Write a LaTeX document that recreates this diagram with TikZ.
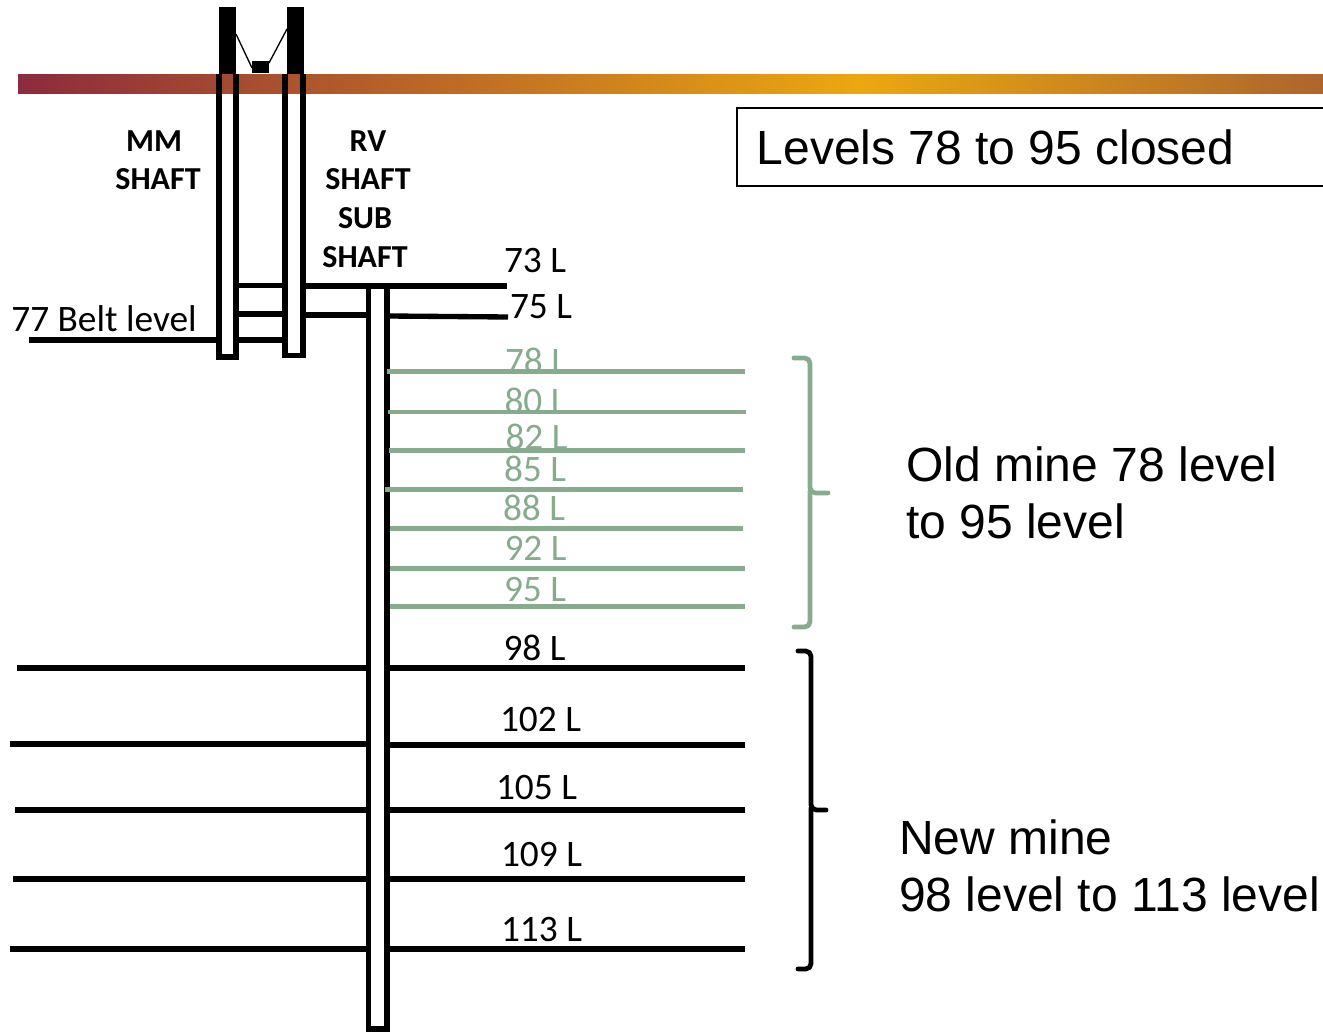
\documentclass[tikz,border=0pt]{standalone}
\usepackage{fontspec}
\setmainfont{Carlito}
\newfontfamily\arialf{Liberation Sans}
\definecolor{sage}{HTML}{87AB8D}
\definecolor{barA}{HTML}{8C2B3C}
\definecolor{barB}{HTML}{EBA80F}
\definecolor{barC}{HTML}{AD652D}
\tikzset{x=0.75pt,y=-0.75pt,
 lvl/.style={line width=4pt,black,line cap=butt},
 old/.style={line width=3.7pt,sage,line cap=butt},
 shaft/.style={line width=4.4pt,black,line cap=butt,line join=miter},
 lab/.style={font=\fontsize{28pt}{32pt}\selectfont,inner sep=0pt,text=black,anchor=center},
 oldlab/.style={lab,text=sage},
 bold/.style={font=\bfseries\fontsize{24pt}{28pt}\selectfont,inner sep=0pt,anchor=center},
 big/.style={font=\arialf\fontsize{36pt}{43pt}\selectfont,inner sep=0pt,anchor=north west,align=left},
 brace/.style={line width=3.6pt,line cap=round,line join=round,rounded corners=4pt}}
\begin{document}
\begin{tikzpicture}
\useasboundingbox (0,0) rectangle (1323,1031);
% surface band
\fill[left color=barA,right color=barB] (18,74.500) rectangle (860,93.500);
\fill[left color=barB,right color=barC] (860,74.500) rectangle (1323,93.500);
% headframes
\fill (219,7) rectangle (236,74);
\fill (287,7) rectangle (304,74);
\fill (252,61) rectangle (269,73);
\coordinate (hl) at (236,34); \coordinate (hr) at (287,29);
\coordinate (cl) at (252,68); \coordinate (cr) at (269,63);
\draw[line width=1pt] (hl) -- (cl);
\draw[line width=1pt] (hr) -- (cr);
% MM and RV shafts
\draw[shaft] (219,74) -- (219,357) -- (236,357) -- (236,74);
\draw[shaft] (285,74) -- (285,355.500) -- (303,355.500) -- (303,74);
% sub shaft
\draw[shaft] (368.500,287) -- (368.500,1029) -- (387,1029) -- (387,287);
% upper connectors
\draw[lvl] (238,285.500) -- (283,285.500);
\draw[lvl] (238,314) -- (283,314);
\draw[lvl] (238,340) -- (286,340);
\draw[lvl] (29,340) -- (217,340);
\draw[lvl] (305,286) -- (507,286);
\draw[lvl] (305,315) -- (366,315);
\draw[lvl] (389,316) -- (508,317);
% new levels
\draw[lvl] (17,668) -- (366,668);
\draw[lvl] (389,668) -- (745,668);
\draw[lvl] (10,744) -- (366,744);
\draw[lvl] (389,745) -- (745,745);
\draw[lvl] (15,810) -- (366,810);
\draw[lvl] (389,810) -- (745,810);
\draw[lvl] (13,879) -- (366,879);
\draw[lvl] (389,879) -- (745,879);
\draw[lvl] (10,949) -- (366,949);
\draw[lvl] (389,949) -- (745,949);
% braces
\draw[brace,sage] (794,358) -- (810,358) -- (810,493) -- (828,493);
\draw[brace,sage] (810,491) -- (810,627) -- (794,627);
\draw[brace,black] (798,651) -- (811,651) -- (811,810) -- (826,810);
\draw[brace,black] (811,808) -- (811,969) -- (798,969);
% box
\coordinate (b1) at (737,108); \coordinate (b2) at (1323,108);
\coordinate (b3) at (737,186); \coordinate (b4) at (1323,186);
\draw[line width=1pt] (b2) -- (b1) -- (b3) -- (b4);
% labels
\node[big] (closed) at (756.500,129) {Levels 78 to 95 closed};
\node[big] (oldm) at (906,446) {Old mine 78 level\\to 95 level};
\node[big] (newm) at (899,819) {New mine\\98 level to 113 level};
\node[bold] (mm1) at (154,141.500) {MM};
\node[bold] (mm2) at (158,179.500) {SHAFT};
\node[bold] (rv1) at (368,141.500) {RV};
\node[bold] (rv2) at (368,179.500) {SHAFT};
\node[bold] (rv3) at (365,218.500) {SUB};
\node[bold] (rv4) at (365,257.500) {SHAFT};
\node[lab] (belt) at (104,319) {77 Belt level};
\node[lab] (l73) at (535,261) {73 L};
\node[lab] (l75) at (541,306.500) {75 L};
\node[oldlab] (l78) at (536,361) {78 L};
\node[oldlab] (l80) at (535.500,401) {80 L};
\node[oldlab] (l82) at (536.500,437) {82 L};
\node[oldlab] (l85) at (535,469) {85 L};
\node[oldlab] (l88) at (534,508) {88 L};
\node[oldlab] (l92) at (535.500,548) {92 L};
\node[oldlab] (l95) at (535,590) {95 L};
\node[lab] (l98) at (534.500,648) {98 L};
\node[lab] (l102) at (540.500,720) {102 L};
\node[lab] (l105) at (536.500,788) {105 L};
\node[lab] (l109) at (541.500,855) {109 L};
\node[lab] (l113) at (541.500,930) {113 L};
% old levels, over their labels
\draw[old] (387,371.500) -- (745,371.500);
\draw[old] (388,412) -- (746,412);
\draw[old] (389,450.500) -- (745,450.500);
\draw[old] (385,489.500) -- (743,489.500);
\draw[old] (390,528.500) -- (743,528.500);
\draw[old] (390,568.500) -- (745,568.500);
\draw[old] (390,606.500) -- (745,606.500);
\end{tikzpicture}
\end{document}
